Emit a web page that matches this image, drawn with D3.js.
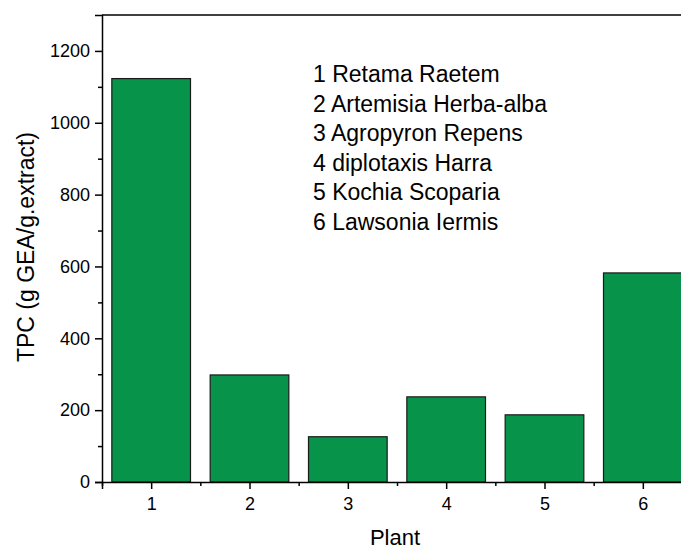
<!DOCTYPE html>
<html>
<head>
<meta charset="utf-8">
<script src="https://cdn.jsdelivr.net/npm/d3@7"></script>
<style>
  body { margin: 0; background: #fff; }
  svg { display: block; font-family: "Liberation Sans", Arial, sans-serif; }
</style>
</head>
<body>
<svg id="chart"></svg>
<script>
// data
const plants = [1, 2, 3, 4, 5, 6];
const tpc    = [1123, 298, 126, 237, 187, 582];
const plantNames = ["1 Retama Raetem", "2 Artemisia Herba-alba", "3 Agropyron Repens",
                    "4 diplotaxis Harra", "5 Kochia Scoparia", "6 Lawsonia Iermis"];
const yTicks = [0, 200, 400, 600, 800, 1000, 1200];

// setup
const width = 681, height = 551;
const plotLeft = 102, plotTop = 15, plotRight = 692, plotBottom = 482;
const barColor = "#07934a";
const fontFam = "Liberation Sans, Arial, sans-serif";

const svg = d3.select("#chart").attr("width", width).attr("height", height);

const x = d3.scaleLinear().domain([0.5, 6.5]).range([plotLeft, plotRight]);
const y = d3.scaleLinear().domain([0, 1300]).range([plotBottom, plotTop]);
const barW = (x(1) - x(0)) * 0.8;

// bars
svg.append("g").selectAll("rect")
  .data(plants)
  .join("rect")
    .attr("x", (d) => x(d) - barW / 2)
    .attr("y", (d, i) => y(tpc[i]))
    .attr("width", barW)
    .attr("height", (d, i) => y(0) - y(tpc[i]))
    .attr("fill", barColor)
    .attr("stroke", "#1a1a1a")
    .attr("stroke-width", 1.2);

// x axis
const xAxis = svg.append("g").attr("transform", `translate(0,${plotBottom})`)
  .call(d3.axisBottom(x).tickValues(plants).tickSize(7).tickPadding(8).tickFormat(d3.format("d")));
xAxis.append("g")
  .call(d3.axisBottom(x).tickValues([0.5, 1.5, 2.5, 3.5, 4.5, 5.5]).tickSize(4).tickFormat(""))
  .select(".domain").remove();

// y axis
const yAxis = svg.append("g").attr("transform", `translate(${plotLeft},0)`)
  .call(d3.axisLeft(y).tickValues(yTicks).tickSize(7).tickPadding(5).tickFormat(d3.format("d")));
yAxis.append("g")
  .call(d3.axisLeft(y).tickValues(d3.range(100, 1300, 200)).tickSize(4).tickFormat(""))
  .select(".domain").remove();

[xAxis, yAxis].forEach((ax) => ax.attr("font-size", 18).attr("font-family", fontFam));
svg.selectAll(".domain").attr("stroke", "#000").attr("stroke-width", 1.5);
svg.selectAll(".tick line").attr("stroke", "#000").attr("stroke-width", 1.5);
svg.selectAll(".tick text").attr("fill", "#000");

// top frame line
svg.append("line")
  .attr("x1", plotLeft).attr("x2", plotRight).attr("y1", plotTop).attr("y2", plotTop)
  .attr("stroke", "#000").attr("stroke-width", 1.5);

// axis titles
svg.append("text")
  .attr("transform", `translate(34,247) rotate(-90)`)
  .attr("text-anchor", "middle")
  .attr("font-size", 23)
  .text("TPC (g GEA/g.extract)");

svg.append("text")
  .attr("x", 395).attr("y", 545)
  .attr("text-anchor", "middle")
  .attr("font-size", 22)
  .text("Plant");

// names list
svg.append("g").selectAll("text")
  .data(plantNames)
  .join("text")
    .attr("x", 313)
    .attr("y", (d, i) => 82 + i * 29.6)
    .attr("font-size", 23)
    .text((d) => d);
</script>
</body>
</html>
